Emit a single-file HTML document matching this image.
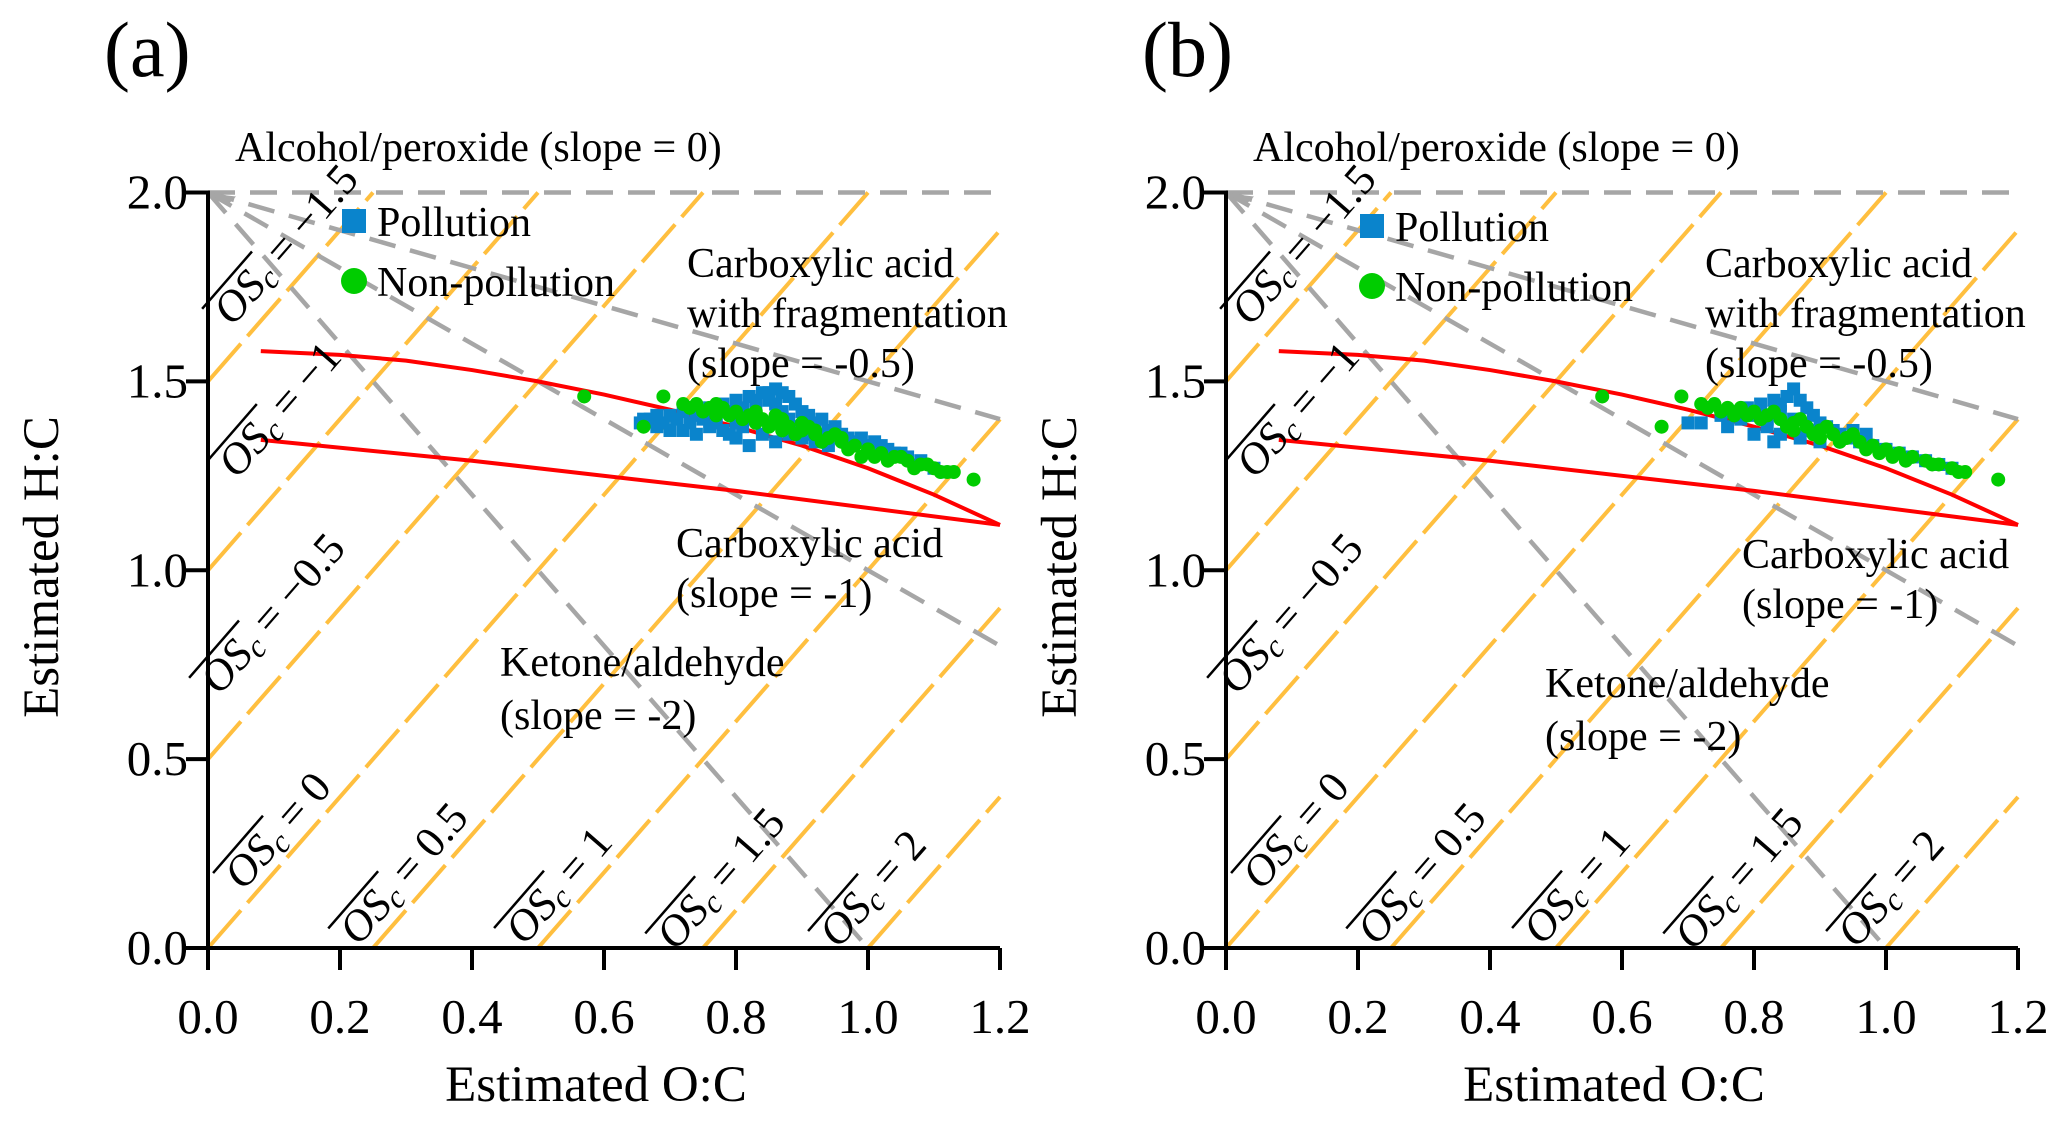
<!DOCTYPE html>
<html><head><meta charset="utf-8"><style>
html,body{margin:0;padding:0;background:#fff;}
svg{display:block;font-family:"Liberation Serif",serif;}
</style></head><body>
<svg id="chart" width="2067" height="1121" viewBox="0 0 2067 1121" xmlns="http://www.w3.org/2000/svg"></svg>
<script>
const NS="http://www.w3.org/2000/svg";
const xTicks=[0,0.2,0.4,0.6,0.8,1.0,1.2];
const xTickLabels=["0.0","0.2","0.4","0.6","0.8","1.0","1.2"];
const yTicks=[0,0.5,1.0,1.5,2.0];
const yTickLabels=["0.0","0.5","1.0","1.5","2.0"];
const oscValues=[-1.5,-1,-0.5,0,0.5,1,1.5,2];
const oscLabels=["\u22121.5","\u22121","\u22120.5","0","0.5","1","1.5","2"];
const grayFromOriginSlopes=[0,-0.5,-1,-2];
const upperCurveX=[0.08,0.2,0.3,0.4,0.5,0.6,0.7,0.8,0.9,1.0,1.1,1.2];
const upperCurveY=[1.58,1.57,1.555,1.53,1.50,1.465,1.425,1.38,1.33,1.27,1.20,1.12];
const lowerCurveX=[0.08,0.4,0.8,1.2];
const lowerCurveY=[1.345,1.29,1.21,1.12];
const pollutionA=[[0.655,1.39],[0.67,1.40],[0.68,1.38],[0.70,1.41],[0.71,1.40],[0.72,1.42],[0.73,1.39],[0.74,1.41],[0.75,1.40],[0.76,1.43],[0.77,1.41],[0.78,1.44],[0.78,1.37],[0.79,1.42],[0.80,1.45],[0.80,1.35],[0.81,1.43],[0.82,1.46],[0.82,1.33],[0.83,1.44],[0.84,1.47],[0.84,1.36],[0.85,1.45],[0.86,1.48],[0.86,1.34],[0.87,1.47],[0.88,1.46],[0.88,1.36],[0.89,1.44],[0.90,1.42],[0.90,1.35],[0.91,1.41],[0.92,1.39],[0.93,1.40],[0.94,1.37],[0.95,1.38],[0.96,1.36],[0.97,1.35],[0.98,1.34],[1.00,1.33],[1.02,1.33],[1.04,1.31],[1.06,1.30],[1.08,1.29],[1.10,1.27],[1.12,1.26],[0.76,1.38],[0.74,1.36],[0.85,1.39],[0.83,1.40],[0.81,1.38],[0.79,1.36],[0.70,1.37],[0.88,1.40],[0.92,1.34],[0.94,1.33],[0.69,1.39],[0.72,1.37],[0.87,1.42],[0.85,1.47],[0.83,1.45],[0.86,1.44],[0.89,1.38],[0.91,1.36],[0.80,1.39],[0.77,1.39],[0.99,1.35],[1.01,1.34],[1.03,1.32],[1.05,1.31],[0.66,1.40],[0.68,1.41]];
const nonPollutionA=[[0.57,1.46],[0.66,1.38],[0.69,1.46],[1.16,1.24],[0.72,1.44],[0.74,1.44],[0.76,1.43],[0.78,1.43],[0.80,1.42],[0.82,1.41],[0.84,1.40],[0.86,1.39],[0.88,1.38],[0.90,1.37],[0.92,1.36],[0.94,1.35],[0.96,1.34],[0.98,1.33],[1.00,1.32],[1.02,1.31],[1.04,1.30],[1.06,1.29],[1.08,1.28],[1.10,1.27],[1.12,1.26],[1.13,1.26],[0.77,1.41],[0.81,1.40],[0.85,1.38],[0.89,1.36],[0.93,1.34],[0.97,1.32],[0.99,1.30],[1.01,1.30],[0.83,1.42],[0.87,1.40],[0.91,1.38],[0.95,1.36],[0.75,1.42],[0.79,1.41],[0.86,1.41],[0.90,1.39],[0.73,1.43],[0.77,1.44],[0.83,1.39],[0.87,1.37],[0.92,1.37],[0.96,1.35],[1.03,1.29],[1.05,1.30],[1.07,1.27],[1.09,1.28],[1.11,1.26]];
const pollutionB=[[0.70,1.39],[0.72,1.39],[0.75,1.41],[0.77,1.42],[0.78,1.40],[0.79,1.43],[0.80,1.41],[0.81,1.44],[0.82,1.38],[0.83,1.45],[0.84,1.42],[0.85,1.46],[0.86,1.48],[0.86,1.40],[0.87,1.45],[0.88,1.43],[0.89,1.41],[0.90,1.39],[0.91,1.38],[0.92,1.37],[0.93,1.36],[0.94,1.35],[0.96,1.34],[0.98,1.33],[1.00,1.32],[0.84,1.36],[0.87,1.35],[0.80,1.36],[0.83,1.34],[0.90,1.34],[0.88,1.37],[0.82,1.40],[0.85,1.38],[0.76,1.38],[1.02,1.31],[1.04,1.30],[1.06,1.29],[1.08,1.28],[1.10,1.27],[0.84,1.44],[0.81,1.42],[0.78,1.42],[0.95,1.37],[0.97,1.36]];
const nonPollutionB=[[0.57,1.46],[0.66,1.38],[0.69,1.46],[1.17,1.24],[0.72,1.44],[0.74,1.44],[0.76,1.43],[0.78,1.43],[0.80,1.42],[0.82,1.41],[0.84,1.40],[0.86,1.39],[0.88,1.38],[0.90,1.37],[0.92,1.36],[0.94,1.35],[0.96,1.34],[0.98,1.33],[1.00,1.32],[1.02,1.31],[1.04,1.30],[1.06,1.29],[1.08,1.28],[1.10,1.27],[1.12,1.26],[0.77,1.41],[0.81,1.40],[0.85,1.38],[0.89,1.36],[0.93,1.34],[0.97,1.32],[1.01,1.30],[0.83,1.42],[0.87,1.40],[0.91,1.38],[0.95,1.36],[0.75,1.42],[0.79,1.41],[0.73,1.43],[0.99,1.31],[1.03,1.29],[1.07,1.28],[1.11,1.26],[0.86,1.37],[0.90,1.35]];

const svg=document.getElementById('chart');
function el(tag,attrs,parent){const e=document.createElementNS(NS,tag);for(const k in attrs)e.setAttribute(k,attrs[k]);(parent||svg).appendChild(e);return e;}

function panel(cfg){
  const X0=cfg.x0,X1=cfg.x0+792,Y0=948,Y1=192.5;
  const sx=v=>X0+v/1.2*(X1-X0);
  const sy=v=>Y0-v/2*(Y0-Y1);
  const g=el('g',{});
  
  
  const clipId='clip'+cfg.id;
  const cp=el('clipPath',{id:clipId},g);
  el('rect',{x:X0,y:Y1-2,width:X1-X0+2,height:Y0-Y1+2},cp);
  const og=el('g',{'clip-path':'url(#'+clipId+')'},g);
  
  
  oscValues.forEach(o=>{
    const xa=Math.max(0,o/2), xb=Math.min(1.2,(2+o)/2);
    const l=el('line',{x1:sx(xa),y1:sy(2*xa-o),x2:sx(xb),y2:sy(2*xb-o),stroke:'#ffbf3f','stroke-width':4,'stroke-dasharray':'50 10'},og);
    
    
  });
  grayFromOriginSlopes.forEach(s=>{
    let xe=1.2; if(2+s*1.2<0) xe=-2/s;
    const l=el('line',{x1:sx(0),y1:sy(2),x2:sx(xe),y2:sy(2+s*xe),stroke:'#a6a6a6','stroke-width':4.5,'stroke-dasharray':'27 15'},g);
    
    
  });
  const ah=el('path',{d:`M${sx(0)+2},${sy(2)+1} l26,3 l-8,8 z`,fill:'#a6a6a6'},g);
  
  
  [[upperCurveX,upperCurveY,'upper-boundary'],[lowerCurveX,lowerCurveY,'lower-boundary']].forEach(([xs,ys,n])=>{
    const p=el('polyline',{points:xs.map((x,i)=>sx(x)+','+sy(ys[i])).join(' '),fill:'none',stroke:'#ff0000','stroke-width':4},g);
    
    
  });
  cfg.pol.forEach(([x,y])=>{
    const r=el('rect',{x:sx(x)-6.5,y:sy(y)-6.5,width:13,height:13,fill:'#0a84cc'},g);
    
    
  });
  cfg.non.forEach(([x,y])=>{
    const c=el('circle',{cx:sx(x),cy:sy(y),r:7,fill:'#00cc00'},g);
    
    
  });
  const ax=el('path',{d:`M${X0},${Y1-2} V${Y0} H${X1}`,fill:'none',stroke:'#000','stroke-width':4},g);
  
  
  xTicks.forEach((v,i)=>{
    el('line',{x1:sx(v),y1:Y0,x2:sx(v),y2:Y0+22,stroke:'#000','stroke-width':4},g);
    const t=el('text',{x:sx(v),y:1033,'font-size':49,'text-anchor':'middle'},g);
    t.textContent=xTickLabels[i];
    
    
  });
  yTicks.forEach((v,i)=>{
    el('line',{x1:X0-22,y1:sy(v),x2:X0,y2:sy(v),stroke:'#000','stroke-width':4},g);
    const t=el('text',{x:X0-20,y:sy(v)+16,'font-size':49,'text-anchor':'end'},g);
    t.textContent=yTickLabels[i];
    
    
  });
  const xt=el('text',{x:(X0+X1)/2-8,y:1101,'font-size':51,'text-anchor':'middle'},g);
  xt.textContent='Estimated O:C';
  
  
  const yt=el('text',{x:0,y:0,'font-size':51,'text-anchor':'middle',transform:`translate(${X0-150},567) rotate(-90)`},g);
  yt.textContent='Estimated H:C';
  
  
  const pl=el('text',{x:X0-104+cfg.plx,y:76,'font-size':78},g);
  pl.textContent=cfg.label;
  
  
  const d=cfg.dx;
  function txt(x,y,s,n){const t=el('text',{x:x,y:y,'font-size':42},g);t.textContent=s;return t;}
  txt(235+d,161,'Alcohol/peroxide (slope = 0)','alcohol-annotation');
  txt(687+d,277,'Carboxylic acid','fragmentation-annotation');
  txt(687+d,327,'with fragmentation','fragmentation-annotation');
  txt(687+d,377,'(slope = -0.5)','fragmentation-annotation');
  txt(cfg.cax,cfg.cay,'Carboxylic acid','carboxylic-annotation');
  txt(cfg.cax,cfg.cay+50,'(slope = -1)','carboxylic-annotation');
  txt(cfg.kx,cfg.ky,'Ketone/aldehyde','ketone-annotation');
  txt(cfg.kx,cfg.ky+53,'(slope = -2)','ketone-annotation');
  const lr=el('rect',{x:342+d,y:cfg.ly-12,width:24,height:24,fill:'#0a84cc'},g);
  
  
  txt(377+d,cfg.ly+15,'Pollution','legend-pollution');
  const lc=el('circle',{cx:354+d,cy:cfg.ly+60,r:13,fill:'#00cc00'},g);
  
  
  txt(377+d,cfg.ly+75,'Non-pollution','legend-non-pollution');
  const pos=[[285,244],[279,409],[272,613],[277,830],[403,873],[558,885],[720,878],[872,888]];
  oscValues.forEach((o,i)=>{
    const grp=el('g',{transform:`translate(${pos[i][0]+d},${pos[i][1]}) rotate(-49)`},g);
    
    
    const t=el('text',{x:0,y:15,'font-size':44},grp);
    const a=el('tspan',{'font-style':'italic'},t);a.textContent='OS';
    const b=el('tspan',{'font-style':'italic','font-size':32,dy:6},t);b.textContent='c';
    const c2=el('tspan',{dy:-6},t);c2.textContent=' = '+oscLabels[i];
    let w=200,wo=60;
    try{w=t.getComputedTextLength();wo=t.getSubStringLength(0,3);}catch(e){}
    t.setAttribute('x',-w/2);
    const ol=el('line',{x1:-w/2-6,y1:-20,x2:-w/2+wo+2,y2:-20,stroke:'#000','stroke-width':2.5},grp);
    
    
  });
}
panel({id:'a',name:'panel-a',label:'(a)',x0:208,dx:0,plx:0,pol:pollutionA,non:nonPollutionA,cax:676,cay:557,kx:500,ky:676,ly:221});
panel({id:'b',name:'panel-b',label:'(b)',x0:1226,dx:1018,plx:20,pol:pollutionB,non:nonPollutionB,cax:1742,cay:568,kx:1545,ky:697,ly:226});
</script>
</body></html>
